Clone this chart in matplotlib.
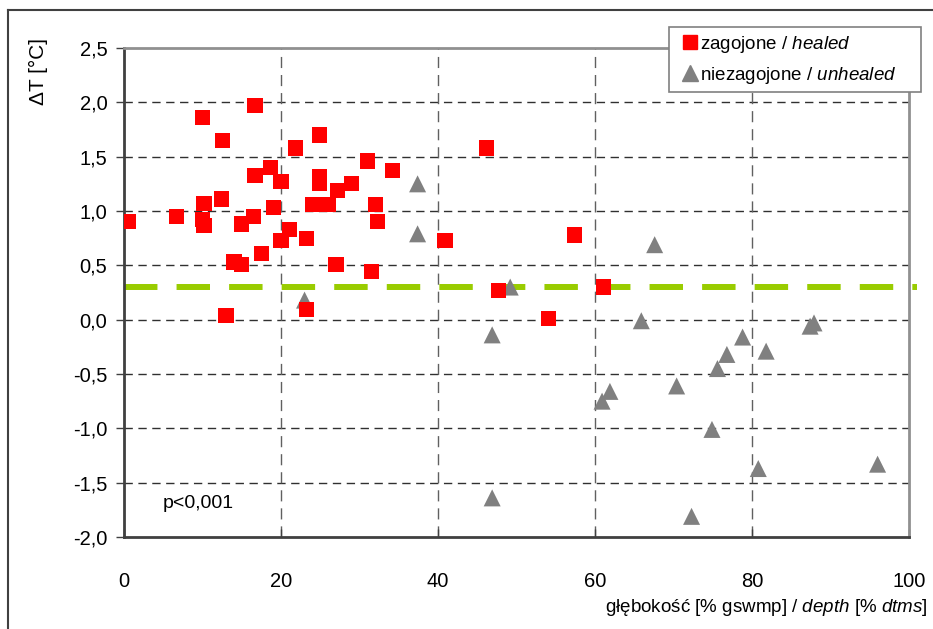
import matplotlib
matplotlib.use("Agg")
import matplotlib.pyplot as plt
from matplotlib.lines import Line2D
from matplotlib.patches import Rectangle

plt.rcParams['font.family'] = ['Liberation Sans', 'DejaVu Sans']
plt.rcParams['mathtext.fontset'] = 'custom'
plt.rcParams['mathtext.rm'] = 'Liberation Sans'
plt.rcParams['mathtext.it'] = 'Liberation Sans:italic'

# healed (zagojone)
healed_x = [0.5, 6.7, 10.0, 10.2, 10.0, 10.2, 12.5, 12.4, 13.0, 14.0, 15.0, 15.0,
            16.7, 16.7, 16.5, 17.5, 18.7, 19.0, 20.0, 20.0, 21.1, 21.8, 23.2, 23.2,
            24.9, 24.9, 24.9, 24.0, 26.0, 27.2, 27.0, 29.0, 31.0, 32.0, 32.3, 31.5,
            34.2, 46.2, 40.9, 57.4, 47.7, 61.1, 54.1]
healed_y = [0.90, 0.95, 1.86, 1.07, 0.92, 0.87, 1.65, 1.11, 0.04, 0.53, 0.51, 0.88,
            1.97, 1.33, 0.95, 0.61, 1.40, 1.03, 1.27, 0.73, 0.83, 1.58, 0.75, 0.09,
            1.70, 1.32, 1.25, 1.06, 1.06, 1.19, 0.51, 1.25, 1.46, 1.06, 0.90, 0.44,
            1.37, 1.58, 0.73, 0.78, 0.27, 0.30, 0.01]

# unhealed (niezagojone)
unhealed_x = [23.0, 37.4, 37.4, 67.6, 49.2, 65.9, 46.9, 46.9, 87.4, 87.9, 78.8,
              81.8, 76.8, 75.6, 70.4, 61.9, 60.9, 74.9, 80.8, 96.0, 72.3]
unhealed_y = [0.18, 1.25, 0.79, 0.69, 0.30, -0.01, -0.14, -1.64, -0.06, -0.03, -0.16,
              -0.29, -0.32, -0.45, -0.61, -0.66, -0.75, -1.01, -1.37, -1.33, -1.81]

threshold = 0.3
x_ticks = [0, 20, 40, 60, 80, 100]
y_ticks = [-2.0, -1.5, -1.0, -0.5, 0.0, 0.5, 1.0, 1.5, 2.0, 2.5]
y_ticklabels = [f"{v:.1f}".replace('.', ',') for v in y_ticks]

W, H = 933, 629
fig = plt.figure(figsize=(W / 100, H / 100), dpi=100)
ax = fig.add_axes([124 / W, 1 - 537 / H, (909 - 124) / W, (537 - 48) / H])

ax.set_xlim(0, 100)
ax.set_ylim(-2.0, 2.5)

# grid
for yv in y_ticks[1:-1]:
    ax.axhline(yv, color='#303030', lw=1.0, ls=(0, (6, 4)), zorder=1)
for xv in x_ticks[1:-1]:
    ax.axvline(xv, color='#606060', lw=1.0, ls=(0, (8, 5)), zorder=1)

# threshold line
ax.plot([0, 101], [threshold, threshold], color='#99cc00', lw=4.3,
        ls=(0, (5.6, 3.2)), zorder=2, clip_on=False)

ax.scatter(unhealed_x, unhealed_y, marker='^', s=150, color='#808080',
           edgecolors='none', zorder=3)
ax.scatter(healed_x, healed_y, marker='s', s=120, color='#ff0000',
           edgecolors='none', zorder=4)

for side in ['left', 'bottom']:
    ax.spines[side].set_color('#404040')
    ax.spines[side].set_linewidth(2)
for side in ['top', 'right']:
    ax.spines[side].set_color('#909090')
    ax.spines[side].set_linewidth(2)

ax.set_xticks(x_ticks)
ax.set_xticklabels([str(v) for v in x_ticks], fontsize=14.5)
ax.set_yticks(y_ticks)
ax.set_yticklabels(y_ticklabels, fontsize=14.5)
ax.tick_params(axis='y', direction='out', length=6, width=1, color='#404040', pad=6)
ax.tick_params(axis='x', direction='in', length=6, width=1, color='#404040', pad=25)

ax.text(9.4, -1.69, 'p<0,001', fontsize=14, ha='center', va='center')

fig.text(0.041, 0.887, 'ΔT [°C]', rotation=90, fontsize=15, ha='center', va='center')
fig.text(928 / W, 1 - 608 / H, r'głębokość [% gswmp] / $\mathit{depth\ [\%\ dtms]}$',
         fontsize=13.5, ha='right', va='center')

# legend box
fig.add_artist(Rectangle((669 / W, 1 - 92 / H), (921 - 669) / W, (92 - 27) / H,
                         transform=fig.transFigure, facecolor='white',
                         edgecolor='#808080', lw=1.2, zorder=5))
handles = [
    Line2D([], [], marker='s', ls='none', color='#ff0000', markersize=10.5),
    Line2D([], [], marker='^', ls='none', color='#808080', markersize=12),
]
labels = [r'zagojone / $\mathit{healed}$', r'niezagojone / $\mathit{unhealed}$']
leg = fig.legend(handles, labels, loc='upper left', bbox_to_anchor=(677 / W, 1 - 28 / H),
                 fontsize=13.5, frameon=False, handlelength=0.8, handletextpad=0.15,
                 borderpad=0.3, labelspacing=0.55, borderaxespad=0)
leg.set_zorder(6)

# outer chart frame
fig.add_artist(Line2D([8 / W, 1], [1 - 10 / H, 1 - 10 / H], transform=fig.transFigure,
                      color='#404040', lw=1.5))
fig.add_artist(Line2D([8 / W, 8 / W], [0, 1 - 10 / H], transform=fig.transFigure,
                      color='#404040', lw=1.5))

fig.savefig('out.png', dpi=100)
